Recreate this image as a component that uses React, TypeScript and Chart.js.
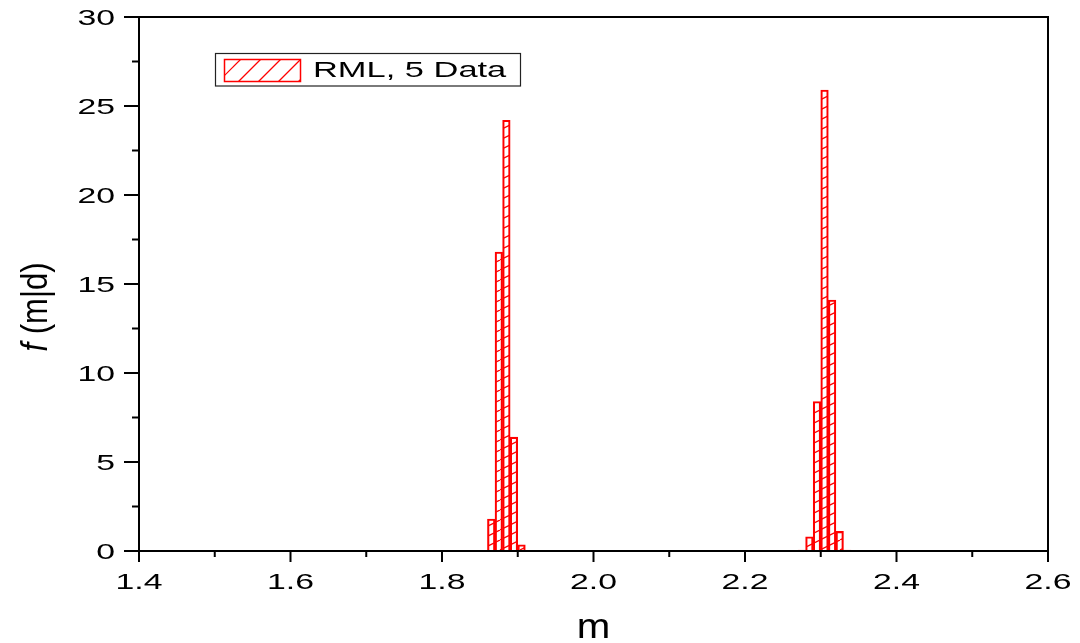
import React, { useEffect, useRef } from "react";
import { Chart, registerables } from "chart.js";

Chart.register(...registerables);

// ---- data ----
const binCenters = [1.865, 1.875, 1.885, 1.895, 1.905, 2.275, 2.285, 2.295, 2.305, 2.315, 2.325, 2.335];
const densities = [1.8, 16.8, 24.2, 6.4, 0.35, 0.05, 0.8, 8.4, 25.9, 14.1, 1.1, 0.05];
const xTicks = [1.4, 1.6, 1.8, 2.0, 2.2, 2.4, 2.6];
const xMinorTicks = [1.5, 1.7, 1.9, 2.1, 2.3, 2.5];
const yTicks = [0, 5, 10, 15, 20, 25, 30];
const yMinorTicks = [2.5, 7.5, 12.5, 17.5, 22.5, 27.5];
const seriesLabel = "RML, 5 Data";
const xTitle = "m";
const yTitleItalic = "f";
const yTitleRest = " (m|d)";

const FONT = '"Liberation Sans", Arial, sans-serif';
const RED = "#ff0000";

function stretchText(
  ctx: CanvasRenderingContext2D,
  text: string,
  x: number,
  y: number,
  sx: number,
  align: CanvasTextAlign
) {
  ctx.save();
  ctx.translate(x, y);
  ctx.scale(sx, 1);
  ctx.textAlign = align;
  ctx.textBaseline = "alphabetic";
  ctx.fillText(text, 0, 0);
  ctx.restore();
}

const decorPlugin = {
  id: "decor",
  afterDraw(chart: any) {
    const ctx: CanvasRenderingContext2D = chart.ctx;
    const { left, right, top, bottom } = chart.chartArea;
    const xs = chart.scales.x;
    const ys = chart.scales.y;
    ctx.save();
    ctx.strokeStyle = "#000";
    ctx.fillStyle = "#000";
    ctx.lineCap = "butt";

    // frame
    ctx.lineWidth = 2;
    ctx.strokeRect(left, top, right - left, bottom - top);

    // x ticks
    for (const v of xTicks) {
      const px = xs.getPixelForValue(v);
      ctx.beginPath();
      ctx.moveTo(px, bottom);
      ctx.lineTo(px, bottom + 11);
      ctx.stroke();
    }
    for (const v of xMinorTicks) {
      const px = xs.getPixelForValue(v);
      ctx.beginPath();
      ctx.moveTo(px, bottom);
      ctx.lineTo(px, bottom + 6);
      ctx.stroke();
    }
    // y ticks
    for (const v of yTicks) {
      const py = ys.getPixelForValue(v);
      ctx.beginPath();
      ctx.moveTo(left - 15, py);
      ctx.lineTo(left, py);
      ctx.stroke();
    }
    for (const v of yMinorTicks) {
      const py = ys.getPixelForValue(v);
      ctx.beginPath();
      ctx.moveTo(left - 7, py);
      ctx.lineTo(left, py);
      ctx.stroke();
    }

    // tick labels
    ctx.font = `22.5px ${FONT}`;
    for (const v of xTicks) {
      const px = xs.getPixelForValue(v);
      stretchText(ctx, v.toFixed(1), px, bottom + 38, 1.5, "center");
    }
    for (const v of yTicks) {
      const py = ys.getPixelForValue(v);
      stretchText(ctx, String(v), left - 24, py + 8, 1.5, "right");
    }

    // x title
    ctx.font = `35px ${FONT}`;
    stretchText(ctx, xTitle, (left + right) / 2, 638, 1.15, "center");

    // y title (rotated)
    ctx.save();
    ctx.translate(47, 307);
    ctx.rotate(-Math.PI / 2);
    ctx.scale(1, 1.2);
    ctx.textBaseline = "alphabetic";
    ctx.textAlign = "left";
    const fItal = `italic 31px ${FONT}`;
    const fNorm = `31px ${FONT}`;
    ctx.font = fItal;
    const w1 = ctx.measureText(yTitleItalic).width;
    ctx.font = fNorm;
    const w2 = ctx.measureText(yTitleRest).width;
    const start = -(w1 + w2) / 2;
    ctx.font = fItal;
    ctx.fillText(yTitleItalic, start, 0);
    ctx.font = fNorm;
    ctx.fillText(yTitleRest, start + w1, 0);
    ctx.restore();

    // legend
    ctx.lineWidth = 1.2;
    ctx.strokeStyle = "#222";
    ctx.strokeRect(215.5, 53.5, 305, 32.5);
    const sx0 = 224.5, sy0 = 59.5, sw = 76, sh = 22;
    ctx.save();
    ctx.beginPath();
    ctx.rect(sx0, sy0, sw, sh);
    ctx.clip();
    ctx.strokeStyle = RED;
    ctx.lineWidth = 1.2;
    for (let x0 = sx0 - 30; x0 < sx0 + sw + 10; x0 += 20) {
      ctx.beginPath();
      ctx.moveTo(x0 + 4, sy0 + sh);
      ctx.lineTo(x0 + 4 + sh, sy0);
      ctx.stroke();
    }
    ctx.restore();
    ctx.strokeStyle = RED;
    ctx.lineWidth = 1.5;
    ctx.strokeRect(sx0, sy0, sw, sh);
    ctx.fillStyle = "#000";
    ctx.font = `22.5px ${FONT}`;
    stretchText(ctx, seriesLabel, 313, 77, 1.53, "left");

    ctx.restore();
  },
};

export default function App() {
  const canvasRef = useRef<HTMLCanvasElement | null>(null);

  useEffect(() => {
    const canvas = canvasRef.current;
    if (!canvas) return;
    const ctx = canvas.getContext("2d")!;

    const tile = document.createElement("canvas");
    tile.width = 20;
    tile.height = 10;
    const t = tile.getContext("2d")!;
    t.strokeStyle = RED;
    t.lineWidth = 1.3;
    for (const dx of [-20, 0, 20]) {
      t.beginPath();
      t.moveTo(dx, 10);
      t.lineTo(dx + 20, 0);
      t.stroke();
    }
    const pattern = ctx.createPattern(tile, "repeat");

    const chart = new Chart(ctx, {
      type: "bar",
      data: {
        datasets: [
          {
            label: seriesLabel,
            data: binCenters.map((x, i) => ({ x, y: densities[i] })),
            backgroundColor: pattern as any,
            borderColor: RED,
            borderWidth: 1.5,
            barPercentage: 1,
            categoryPercentage: 1,
          } as any,
        ],
      },
      options: {
        animation: false,
        responsive: true,
        maintainAspectRatio: false,
        devicePixelRatio: 1,
        layout: { padding: { left: 139, right: 32, top: 17, bottom: 92 } },
        plugins: {
          legend: { display: false },
          tooltip: { enabled: false },
        },
        scales: {
          x: {
            type: "linear",
            min: 1.4,
            max: 2.6,
            offset: false,
            display: false,
            grid: { offset: false },
          },
          y: {
            type: "linear",
            min: 0,
            max: 30,
            display: false,
          },
        },
      },
      plugins: [decorPlugin],
    });

    return () => chart.destroy();
  }, []);

  return (
    <div
      style={{
        position: "fixed",
        left: 0,
        top: 0,
        width: 1080,
        height: 643,
        background: "#fff",
      }}
    >
      <canvas ref={canvasRef} />
    </div>
  );
}
